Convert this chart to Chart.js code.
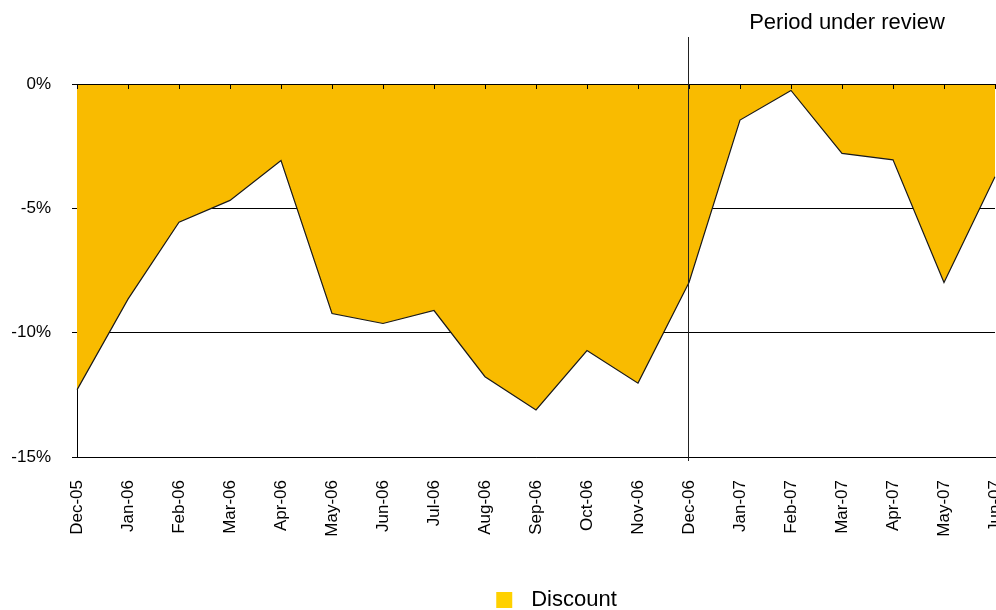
<!DOCTYPE html>
<html>
<head>
<meta charset="utf-8">
<script src="https://cdn.jsdelivr.net/npm/chart.js@4.4.1/dist/chart.umd.min.js"></script>
<style>
    html, body { margin: 0; padding: 0; background: #fff; overflow: hidden; }
    #wrap { width: 996px; height: 621px; position: relative; }
</style>
</head>
<body>
<div id="wrap"><canvas id="discountChart"></canvas></div>
<script>
// ================== DATOS ==================
const months = ['Dec-05', 'Jan-06', 'Feb-06', 'Mar-06', 'Apr-06', 'May-06', 'Jun-06', 'Jul-06',
    'Aug-06', 'Sep-06', 'Oct-06', 'Nov-06', 'Dec-06', 'Jan-07', 'Feb-07', 'Mar-07', 'Apr-07',
    'May-07', 'Jun-07'];
const discount = [-12.3, -8.65, -5.56, -4.68, -3.08, -9.23, -9.63, -9.11, -11.77, -13.11,
    -10.72, -12.03, -7.98, -1.45, -0.26, -2.79, -3.05, -7.98, -3.73];
const yTicks = [0, -5, -10, -15];
const reviewStart = 'Dec-06';
const reviewLabel = 'Period under review';

const FONT = '"Liberation Sans", Arial, Helvetica, sans-serif';

// cuadro de la leyenda (desplazado a la derecha como en el original)
function legendSwatch() {
    const c = document.createElement('canvas');
    c.width = 142;
    c.height = 16;
    const g = c.getContext('2d');
    g.fillStyle = '#FFD100';
    g.fillRect(118, 0, 16, 16);
    return c;
}
const swatch = legendSwatch();

// linea vertical + texto del periodo, borde superior y marcas
const reviewPlugin = {
    id: 'review',
    afterDatasetsDraw(chart) {
        const { ctx, chartArea, scales: { x } } = chart;
        ctx.save();
        ctx.strokeStyle = '#000';
        ctx.lineWidth = 1;
        ctx.beginPath();
        ctx.moveTo(chartArea.left, chartArea.top + 0.5);
        ctx.lineTo(chartArea.right, chartArea.top + 0.5);
        for (let i = 0; i < months.length; i++) {
            const px = Math.round(x.getPixelForTick(i)) + 0.5;
            ctx.moveTo(px, chartArea.top);
            ctx.lineTo(px, chartArea.top + 5);
        }
        ctx.stroke();

        const vx = Math.round(x.getPixelForValue(months.indexOf(reviewStart))) - 0.5;
        ctx.strokeStyle = '#222';
        ctx.beginPath();
        ctx.moveTo(vx, 37);
        ctx.lineTo(vx, chartArea.bottom + 4);
        ctx.stroke();

        ctx.fillStyle = '#000';
        ctx.font = '22px ' + FONT;
        ctx.textAlign = 'center';
        ctx.textBaseline = 'alphabetic';
        ctx.fillText(reviewLabel, 847, 29);
        ctx.restore();
    }
};

const chartData = {
    labels: months,
    datasets: [{
        label: 'Discount',
        data: discount,
        backgroundColor: '#F9BB00',
        borderColor: '#1a1a1a',
        borderWidth: 1.2,
        fill: 'origin',
        pointRadius: 0,
        tension: 0
    }]
};

const chartOptions = {
    responsive: true,
    maintainAspectRatio: false,
    animation: false,
    layout: { padding: { top: 84, right: 1, left: 0, bottom: 0 } },
    plugins: {
        tooltip: { enabled: false },
        legend: {
            position: 'bottom',
            labels: {
                color: '#000',
                font: { size: 22, family: FONT },
                usePointStyle: true,
                pointStyleWidth: 142,
                boxHeight: 16,
                padding: 10,
                generateLabels: chart => [{
                    text: 'Discount',
                    fillStyle: '#FFD100',
                    strokeStyle: '#FFD100',
                    pointStyle: swatch,
                    lineWidth: 0,
                    datasetIndex: 0
                }]
            }
        }
    },
    scales: {
        x: {
            offset: false,
            grid: { display: false, drawTicks: false, tickLength: 0 },
            border: { display: true, color: '#000', width: 1 },
            ticks: {
                color: '#000',
                font: { size: 17, family: FONT },
                maxRotation: 90,
                minRotation: 90,
                padding: 23,
                autoSkip: false
            },
            afterFit: scale => {
                scale.height = 122;
                scale.paddingLeft = 0;
                scale.paddingRight = 0;
            }
        },
        y: {
            min: -15,
            max: 0,
            afterBuildTicks: scale => {
                scale.ticks = yTicks.map(v => ({ value: v }));
            },
            grid: { color: '#000', lineWidth: 1, tickLength: 5 },
            border: { display: true, color: '#000', width: 1 },
            ticks: {
                color: '#000',
                font: { size: 17, family: FONT },
                padding: 21,
                callback: value => `${value}%`
            },
            afterFit: scale => {
                scale.width = 77;
                scale.paddingTop = 0;
                scale.paddingBottom = 0;
            }
        }
    }
};

const ctx = document.getElementById('discountChart').getContext('2d');
new Chart(ctx, {
    type: 'line',
    data: chartData,
    options: chartOptions,
    plugins: [reviewPlugin]
});
</script>
</body>
</html>
